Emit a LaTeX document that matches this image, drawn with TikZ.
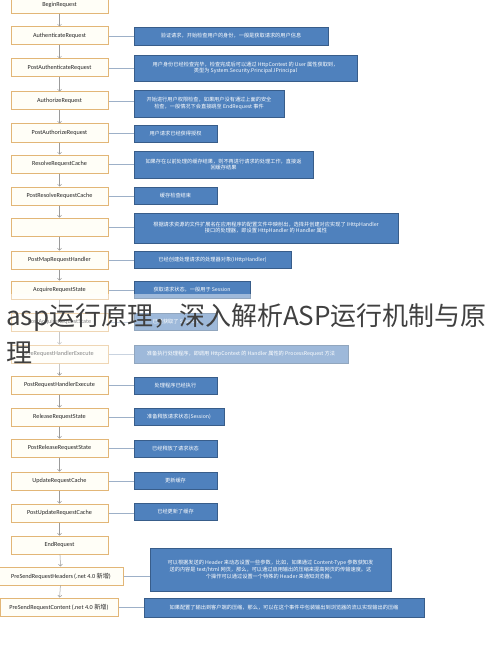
\documentclass[tikz,border=0pt]{standalone}
\usepackage{fontspec}
\setmainfont{Carlito}
\newfontfamily\cjk{Noto Sans CJK SC}
\usetikzlibrary{arrows.meta}
\definecolor{evline}{HTML}{E2B677}
\definecolor{evfill}{HTML}{FFFEF7}
\definecolor{noteblue}{HTML}{4F81BD}
\definecolor{noteline}{HTML}{385D8A}
\definecolor{linkgray}{HTML}{9DB0C8}
\definecolor{arrgray}{HTML}{9A9A9A}

\begin{document}
\begin{tikzpicture}[x=1pt, y=-1pt,
    event/.style = {draw=evline, line width=1pt, fill=evfill, minimum width=97pt,
                    minimum height=18pt, inner sep=1pt, text=black!85,
                    font=\fontsize{6.2}{7}\selectfont},
    note/.style  = {draw=noteline, line width=0.6pt, fill=noteblue, text=white,
                    inner sep=1pt, align=center, font=\cjk\fontsize{5.2}{6.6}\selectfont},
    flow/.style  = {draw=arrgray, line width=0.5pt, -{Straight Barb[length=2pt,width=4pt]}},
    link/.style  = {draw=linkgray, line width=0.6pt},
    title/.style = {anchor=base west, inner sep=0pt, text=black!75,
                    font=\cjk\fontsize{26}{30}\selectfont}]
    \useasboundingbox (0,0) rectangle (490,650);
    \fill[white] (0,0) rectangle (490,650);

    % pipeline events
    \node[event] (evBegin) at (59.5,5) {BeginRequest};
    \node[event] (evAuth) at (59.5,36) {AuthenticateRequest};
    \node[event] (evPostAuth) at (59.5,68) {PostAuthenticateRequest};
    \node[event] (evAuthz) at (59.5,101) {AuthorizeRequest};
    \node[event] (evPostAuthz) at (59.5,133) {PostAuthorizeRequest};
    \node[event] (evResolve) at (59.5,164) {ResolveRequestCache};
    \node[event] (evPostResolve) at (59.5,196) {PostResolveRequestCache};
    \node[event] (evMap) at (59.5,227) {};
    \node[event] (evPostMap) at (59.5,260) {PostMapRequestHandler};
    \node[event] (evAcquire) at (59.5,290) {AcquireRequestState};
    \node[event] (evPostAcquire) at (59.5,322) {PostAcquireRequestState};
    \node[event] (evPreExec) at (59.5,354) {PreRequestHandlerExecute};
    \node[event] (evPostExec) at (59.5,385) {PostRequestHandlerExecute};
    \node[event] (evRelease) at (59.5,417) {ReleaseRequestState};
    \node[event] (evPostRelease) at (59.5,448) {PostReleaseRequestState};
    \node[event] (evUpdate) at (59.5,481) {UpdateRequestCache};
    \node[event] (evPostUpdate) at (59.5,513) {PostUpdateRequestCache};
    \node[event] (evEnd) at (59.5,545) {EndRequest};
    \node[event, minimum width=124pt] (evHeaders) at (61,576) {PreSendRequestHeaders\,(.net 4.0 {\cjk 新增})};
    \node[event, minimum width=118pt] (evContent) at (59,607) {PreSendRequestContent\,(.net 4.0 {\cjk 新增})};

    % notes
    \node[note, minimum width=194pt, minimum height=18pt] (noteAuth) at (231,36)
        {验证请求，开始检查用户的身份，一般是获取请求的用户信息};
    \node[note, minimum width=223pt, minimum height=26pt] (notePostAuth) at (245.5,68)
        {用户身份已经检查完毕，检查完成后可以通过 HttpContext 的 User 属性获取到，\\类型为 System.Security.Principal.IPrincipal};
    \node[note, minimum width=150pt, minimum height=27pt] (noteAuthz) at (209,103.5)
        {开始进行用户权限检查，如果用户没有通过上面的安全\\检查，一般情况下会直接跳至 EndRequest 事件};
    \node[note, minimum width=83pt, minimum height=17pt] (notePostAuthz) at (175.5,134)
        {用户请求已经获得授权};
    \node[note, minimum width=179pt, minimum height=27pt] (noteResolve) at (223.5,164.5)
        {如果存在以前处理的缓存结果，则不再进行请求的处理工作，直接返\\回缓存结果};
    \node[note, minimum width=83pt, minimum height=17pt] (notePostResolve) at (175.5,195.5)
        {缓存检查结束};
    \node[note, minimum width=264pt, minimum height=30pt] (noteMap) at (266,228)
        {根据请求资源的文件扩展名在应用程序的配置文件中映射出，选择并创建对应实现了 IHttpHandler\\接口的处理器，即设置 HttpHandler 的 Handler 属性};
    \node[note, minimum width=157pt, minimum height=17pt] (notePostMap) at (212.5,260)
        {已经创建处理请求的处理器对象(IHttpHandler)};
    \node[note, minimum width=116pt, minimum height=17pt] (noteAcquire) at (192,290)
        {获取请求状态，一般用于 Session};
    \node[note, minimum width=83pt, minimum height=17pt] (notePostAcquire) at (175.5,322)
        {已经获取了 Session};
    \node[note, minimum width=214pt, minimum height=18pt] (notePreExec) at (241,354)
        {准备执行处理程序，即调用 HttpContext 的 Handler 属性的 ProcessRequest 方法};
    \node[note, minimum width=83pt, minimum height=17pt] (notePostExec) at (175.5,385.5)
        {处理程序已经执行};
    \node[note, minimum width=90pt, minimum height=17pt] (noteRelease) at (179,416.5)
        {准备释放请求状态(Session)};
    \node[note, minimum width=83pt, minimum height=17pt] (notePostRelease) at (175.5,448.5)
        {已经释放了请求状态};
    \node[note, minimum width=83pt, minimum height=17pt] (noteUpdate) at (175.5,480.5)
        {更新缓存};
    \node[note, minimum width=83pt, minimum height=17pt] (notePostUpdate) at (175.5,512)
        {已经更新了缓存};
    \node[note, minimum width=241pt, minimum height=43pt] (noteHeaders) at (270.5,569.5)
        {可以根据发送的 Header 来动态设置一些参数，比如，如果通过 Content-Type 参数获知发\\送的内容是 text/html 网页，那么，可以通过启用输出的压缩来提高网页的传输速度。这\\个操作可以通过设置一个特殊的 Header 来通知浏览器。};
    \node[note, minimum width=280pt, minimum height=19pt] (noteContent) at (284,607.5)
        {如果配置了输出到客户端的压缩，那么，可以在这个事件中包装输出到浏览器的流以实现输出的压缩};

    % event order
    \draw[flow] (evBegin) -- (evAuth);
    \draw[flow] (evAuth) -- (evPostAuth);
    \draw[flow] (evPostAuth) -- (evAuthz);
    \draw[flow] (evAuthz) -- (evPostAuthz);
    \draw[flow] (evPostAuthz) -- (evResolve);
    \draw[flow] (evResolve) -- (evPostResolve);
    \draw[flow] (evPostResolve) -- (evMap);
    \draw[flow] (evMap) -- (evPostMap);
    \draw[flow] (evPostMap) -- (evAcquire);
    \draw[flow] (evAcquire) -- (evPostAcquire);
    \draw[flow] (evPostAcquire) -- (evPreExec);
    \draw[flow] (evPreExec) -- (evPostExec);
    \draw[flow] (evPostExec) -- (evRelease);
    \draw[flow] (evRelease) -- (evPostRelease);
    \draw[flow] (evPostRelease) -- (evUpdate);
    \draw[flow] (evUpdate) -- (evPostUpdate);
    \draw[flow] (evPostUpdate) -- (evEnd);
    \draw[flow] (evEnd) -- (evHeaders);
    \draw[flow] (evHeaders) -- (evContent);

    % event to note
    \draw[link] (evAuth.east) -- (evAuth.east -| noteAuth.west);
    \draw[link] (evPostAuth.east) -- (evPostAuth.east -| notePostAuth.west);
    \draw[link] (evAuthz.east) -- (evAuthz.east -| noteAuthz.west);
    \draw[link] (evPostAuthz.east) -- (evPostAuthz.east -| notePostAuthz.west);
    \draw[link] (evResolve.east) -- (evResolve.east -| noteResolve.west);
    \draw[link] (evPostResolve.east) -- (evPostResolve.east -| notePostResolve.west);
    \draw[link] (evMap.east) -- (evMap.east -| noteMap.west);
    \draw[link] (evPostMap.east) -- (evPostMap.east -| notePostMap.west);
    \draw[link] (evAcquire.east) -- (evAcquire.east -| noteAcquire.west);
    \draw[link] (evPostAcquire.east) -- (evPostAcquire.east -| notePostAcquire.west);
    \draw[link] (evPreExec.east) -- (evPreExec.east -| notePreExec.west);
    \draw[link] (evPostExec.east) -- (evPostExec.east -| notePostExec.west);
    \draw[link] (evRelease.east) -- (evRelease.east -| noteRelease.west);
    \draw[link] (evPostRelease.east) -- (evPostRelease.east -| notePostRelease.west);
    \draw[link] (evUpdate.east) -- (evUpdate.east -| noteUpdate.west);
    \draw[link] (evPostUpdate.east) -- (evPostUpdate.east -| notePostUpdate.west);
    \draw[link] (evHeaders.east) -- (evHeaders.east -| noteHeaders.west);
    \draw[link] (evContent.east) -- (evContent.east -| noteContent.west);

    % title laid over the picture
    \fill[white, opacity=0.45] (0,294) rectangle (490,372);
    \node[title] (titleA) at (6,325) {asp运行原理，深入解析ASP运行机制与原};
    \node[title] (titleB) at (6,362) {理};
\end{tikzpicture}
\end{document}
